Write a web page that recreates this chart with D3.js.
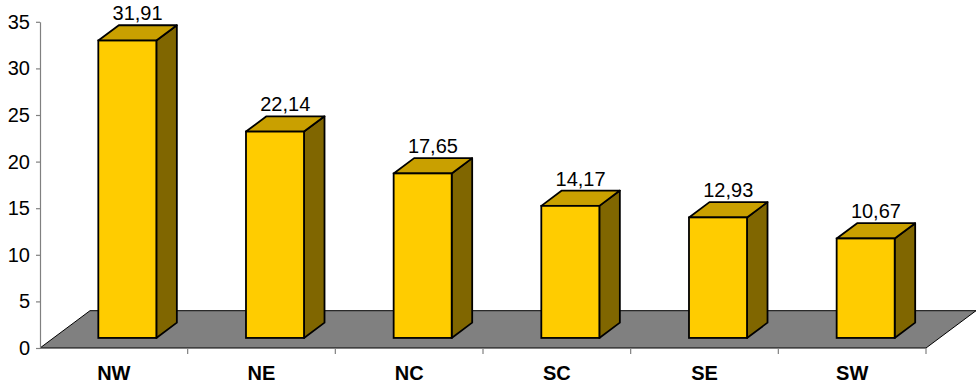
<!DOCTYPE html>
<html>
<head>
<meta charset="utf-8">
<script src="https://cdn.jsdelivr.net/npm/d3@7/dist/d3.min.js"></script>
<style>
  html, body { margin: 0; padding: 0; background: #fff; }
  svg { display: block; font-family: "Liberation Sans", Arial, sans-serif; }
</style>
</head>
<body>
<svg id="chart" width="976" height="385"></svg>
<script>
// Data
const regions = ["NW", "NE", "NC", "SC", "SE", "SW"];
const shares = [31.91, 22.14, 17.65, 14.17, 12.93, 10.67];
const valueTicks = [0, 5, 10, 15, 20, 25, 30, 35];
const valueLabels = ["31,91", "22,14", "17,65", "14,17", "12,93", "10,67"];

(function () {
  const svg = d3.select("#chart");

  // Plot frame (front plane) and 3D depth of the floor
  const plotLeft = 40, plotRight = 926, plotBase = 348, plotTop = 21.8;
  const depthX = 50, depthY = 37.3;
  // Bars sit inside the depth: front face and back face fractions
  const frontF = 0.27, backF = 0.68;

  const x = d3.scaleBand().domain(regions).range([plotLeft, plotRight]).paddingInner(0).paddingOuter(0);
  const y = d3.scaleLinear().domain([0, 35]).range([plotBase, plotTop]);

  // Floor
  const floor = [[plotLeft, plotBase], [plotRight, plotBase],
                 [plotRight + depthX, plotBase - depthY], [plotLeft + depthX, plotBase - depthY]];
  svg.append("path")
    .attr("d", d3.line()(floor) + "Z")
    .attr("fill", "#808080")
    .attr("stroke", "#000")
    .attr("stroke-width", 1);

  // Value axis
  const yAxis = svg.append("g")
    .attr("transform", `translate(${plotLeft},0)`)
    .call(d3.axisLeft(y).tickValues(valueTicks).tickSize(4).tickPadding(6).tickSizeOuter(0));
  yAxis.select(".domain").attr("stroke", "#808080").attr("stroke-width", 1.2);
  yAxis.selectAll(".tick line").attr("stroke", "#808080").attr("stroke-width", 1.2);
  yAxis.selectAll(".tick text")
    .attr("font-size", 20)
    .attr("fill", "#000")
    .attr("font-family", "Liberation Sans, Arial, sans-serif");

  // Category axis labels
  const xAxis = svg.append("g")
    .attr("transform", `translate(0,${plotBase})`)
    .call(d3.axisBottom(x).tickSize(0).tickPadding(0));
  xAxis.select(".domain").remove();
  xAxis.selectAll(".tick text")
    .attr("font-size", 20)
    .attr("font-weight", "bold")
    .attr("fill", "#000")
    .attr("font-family", "Liberation Sans, Arial, sans-serif")
    .attr("dy", null)
    .attr("y", 32);

  // Category boundary tick marks
  const bounds = regions.map(r => x(r)).slice(1).concat([plotRight]);
  svg.append("g").selectAll("line").data(bounds).join("line")
    .attr("x1", d => d).attr("x2", d => d)
    .attr("y1", plotBase).attr("y2", plotBase + 6)
    .attr("stroke", "#808080").attr("stroke-width", 1.2);

  // Bars
  const barW = x.bandwidth() * 0.393;
  const fx = depthX * frontF, fy = depthY * frontF;
  const bx = depthX * (backF - frontF), by = depthY * (backF - frontF);

  const bars = svg.append("g").selectAll("g")
    .data(regions.map((r, i) => ({ r, v: shares[i], label: valueLabels[i] })))
    .join("g");

  bars.each(function (d) {
    const g = d3.select(this);
    const cx = x(d.r) + x.bandwidth() / 2 + fx;
    const x0 = cx - barW / 2, x1 = cx + barW / 2;
    const yb = y(0) - fy, yt = y(d.v) - fy;
    const line = d3.line();
    // side face
    g.append("path")
      .attr("d", line([[x1, yb], [x1 + bx, yb - by], [x1 + bx, yt - by], [x1, yt]]) + "Z")
      .attr("fill", "#806600").attr("stroke", "#000").attr("stroke-width", 1.8).attr("stroke-linejoin", "round");
    // top face
    g.append("path")
      .attr("d", line([[x0, yt], [x1, yt], [x1 + bx, yt - by], [x0 + bx, yt - by]]) + "Z")
      .attr("fill", "#C9A000").attr("stroke", "#000").attr("stroke-width", 1.8).attr("stroke-linejoin", "round");
    // front face
    g.append("rect")
      .attr("x", x0).attr("y", yt).attr("width", barW).attr("height", yb - yt)
      .attr("fill", "#FFCC00").attr("stroke", "#000").attr("stroke-width", 1.8);
    // value label
    g.append("text")
      .attr("x", cx + bx / 2)
      .attr("y", yt - by - 5)
      .attr("text-anchor", "middle")
      .attr("font-size", 20)
      .attr("fill", "#000")
      .text(d.label);
  });
})();
</script>
</body>
</html>
